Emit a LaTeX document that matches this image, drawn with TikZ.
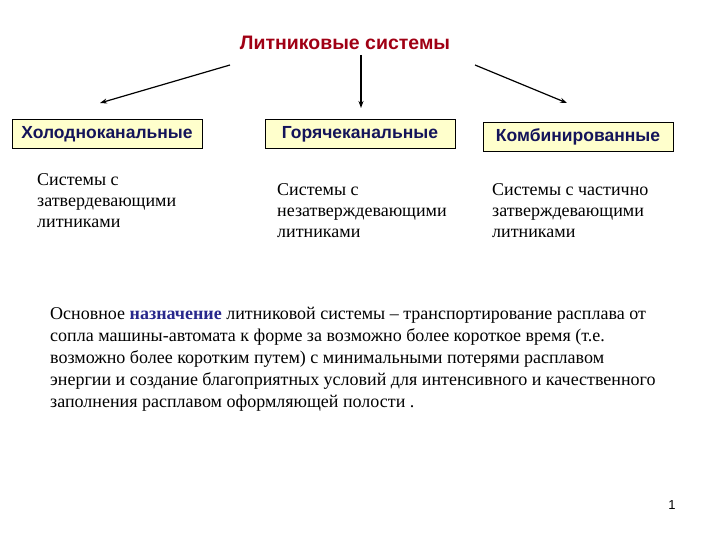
\documentclass[tikz,border=0pt]{standalone}
\usetikzlibrary{arrows.meta}
\usepackage{fontspec}
\setmainfont{Liberation Serif}
\newfontfamily\hsans{Liberation Sans}
\definecolor{navy}{RGB}{20,20,90}
\definecolor{titred}{RGB}{160,0,20}
\definecolor{boxfill}{RGB}{255,255,204}
\definecolor{keyblue}{RGB}{40,40,140}
\tikzset{
  cat/.style={draw=black, fill=boxfill, minimum width=190pt, minimum height=29pt, inner sep=2pt, font=\hsans\fontsize{17.5}{19}\selectfont\bfseries, text=navy},
  desc/.style={anchor=north west, align=left, inner sep=0pt, font=\fontsize{18}{21}\selectfont, text=black},
  arr/.style={-{Stealth[length=7pt,width=5pt]}, line width=1.2pt}
}
\begin{document}
\begin{tikzpicture}[x=1pt,y=-1pt]
\useasboundingbox (0,0) rectangle (720,540);
\node[font=\hsans\fontsize{19.5}{21}\selectfont\bfseries, text=titred] (t) at (345,43) {Литниковые системы};
\node[cat] (c1) at (107,134) {Холодноканальные};
\node[cat] (c2) at (360,134) {Горячеканальные};
\node[cat] (c3) at (578,137) {Комбинированные};
\coordinate (s1) at (230,65);
\coordinate (s2) at (361,55);
\coordinate (s3) at (475,65);
\coordinate (e1) at (100,103);
\coordinate (e2) at (361,108);
\coordinate (e3) at (567,103);
\draw[arr] (s1) -- (e1);
\draw[arr] (s2) -- (e2);
\draw[arr] (s3) -- (e3);
\node[desc] (d1) at (37,173) {Системы с\\затвердевающими\\литниками};
\node[desc] (d2) at (277,183) {Системы с\\незатверждевающими\\литниками};
\node[desc] (d3) at (492,183) {Системы с частично\\затверждевающими\\литниками};
\node[desc, font=\fontsize{18}{22}\selectfont] (p) at (50,307) {Основное {\color{keyblue}\bfseries назначение} литниковой системы – транспортирование расплава от\\сопла машины-автомата к форме за возможно более короткое время (т.е.\\возможно более коротким путем) с минимальными потерями расплавом\\энергии и создание благоприятных условий для интенсивного и качественного\\заполнения расплавом оформляющей полости .};
\node[font=\hsans\fontsize{13}{14}\selectfont] (n) at (672,505) {1};
\end{tikzpicture}
\end{document}
